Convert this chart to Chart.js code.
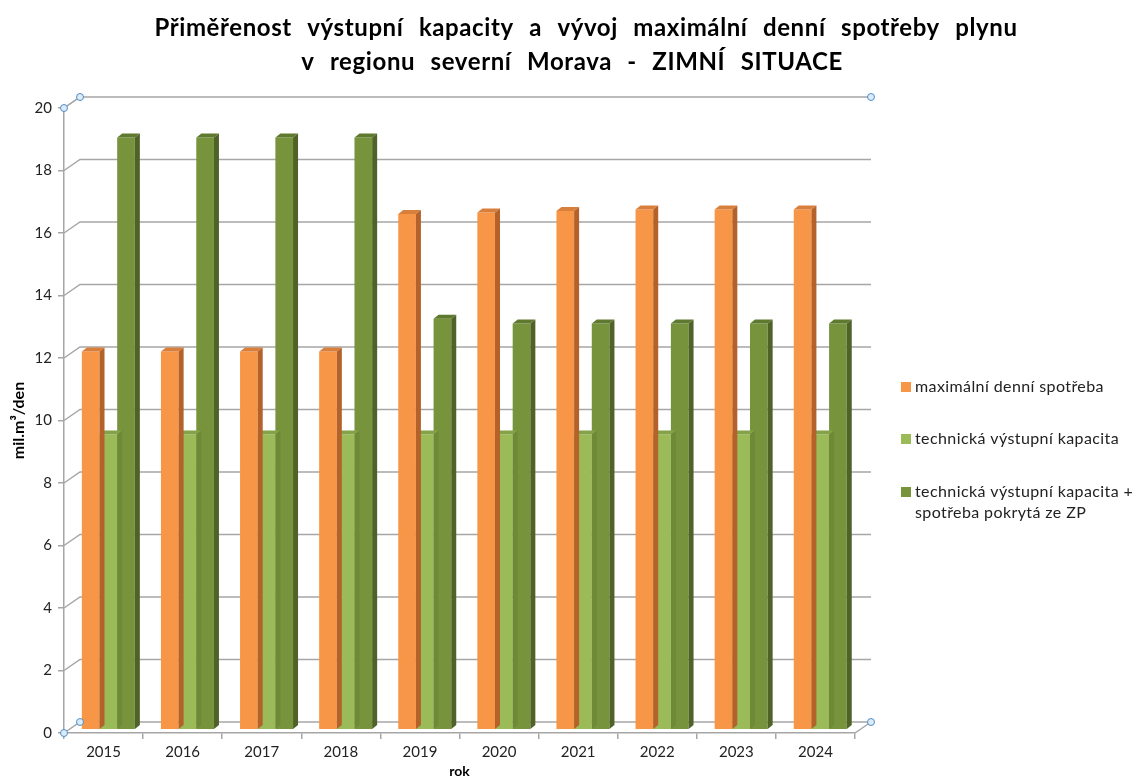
<!DOCTYPE html>
<html>
<head>
<meta charset="utf-8">
<script src="https://cdn.jsdelivr.net/npm/chart.js@4.4.1/dist/chart.umd.min.js"></script>
<style>
  html, body { margin:0; padding:0; background:#fff; }
  #wrap { width:1136px; height:781px; position:relative; }
</style>
</head>
<body>
<div id="wrap"><canvas id="chart"></canvas></div>
<script>
/* ---------- data ---------- */
const years = ['2015','2016','2017','2018','2019','2020','2021','2022','2023','2024'];
const maxDemand       = [12.1, 12.1, 12.1, 12.1, 16.5, 16.55, 16.6, 16.65, 16.65, 16.65];
const techCapacity    = [9.45, 9.45, 9.45, 9.45, 9.45, 9.45, 9.45, 9.45, 9.45, 9.45];
const techPlusStorage = [18.95, 18.95, 18.95, 18.95, 13.15, 13.0, 13.0, 13.0, 13.0, 13.0];
const seriesNames = [
  'maximální denní spotřeba',
  'technická výstupní kapacita',
  ['technická výstupní kapacita +', 'spotřeba pokrytá ze ZP']
];
const yTicks = [0, 2, 4, 6, 8, 10, 12, 14, 16, 18, 20];
const titleLines = [
  'Přiměřenost výstupní kapacity a vývoj maximální denní spotřeby plynu',
  'v regionu severní Morava - ZIMNÍ SITUACE'
];

/* ---------- fake 3D look ---------- */
const WALL_DX = 16, WALL_DY = 11;      // back wall offset
const BAR_POS = 0.3;                   // depth where bar front faces sit
const BAR_DX = 5, BAR_DY = 4;          // bar thickness
const FONT = 'Lato';

const faceColors = [
  { front:'#F79646', top:'#D97F3C', side:'#B4612A' },
  { front:'#9BBB59', top:'#84A247', side:'#6E8A37' },
  { front:'#77933C', top:'#5F7A2E', side:'#4F6228' }
];

const depth3d = {
  id: 'depth3d',
  beforeDatasetsDraw(chart){
    const { ctx, chartArea:a, scales:{ y } } = chart;
    ctx.save();
    ctx.strokeStyle = '#A6A6A6';
    ctx.lineWidth = 1.5;
    y.ticks.forEach(t => {
      const py = y.getPixelForValue(t.value);
      ctx.beginPath();
      ctx.moveTo(a.left, py);
      ctx.lineTo(a.left + WALL_DX, py - WALL_DY);
      ctx.lineTo(a.right + WALL_DX, py - WALL_DY);
      ctx.stroke();
    });
    const y0 = y.getPixelForValue(0);
    ctx.beginPath();
    ctx.moveTo(a.right, y0);
    ctx.lineTo(a.right + WALL_DX, y0 - WALL_DY);
    ctx.stroke();
    ctx.restore();
    // bars sit a bit behind the front plane
    ctx.save();
    ctx.translate(WALL_DX * BAR_POS, -WALL_DY * BAR_POS);
  },
  afterDatasetDraw(chart, args){
    const ctx = chart.ctx;
    const c = faceColors[args.index];
    args.meta.data.forEach(bar => {
      const { x, y, base, width } = bar.getProps(['x','y','base','width'], true);
      const l = x - width/2, r = x + width/2;
      ctx.fillStyle = c.top;
      ctx.beginPath();
      ctx.moveTo(l, y); ctx.lineTo(l + BAR_DX, y - BAR_DY);
      ctx.lineTo(r + BAR_DX, y - BAR_DY); ctx.lineTo(r, y);
      ctx.closePath(); ctx.fill();
      ctx.fillStyle = c.side;
      ctx.beginPath();
      ctx.moveTo(r, y); ctx.lineTo(r + BAR_DX, y - BAR_DY);
      ctx.lineTo(r + BAR_DX, base - BAR_DY); ctx.lineTo(r, base);
      ctx.closePath(); ctx.fill();
    });
  },
  afterDatasetsDraw(chart){
    chart.ctx.restore();
  },
  afterDraw(chart){
    const { ctx, chartArea:a } = chart;
    // selection handles of the plot area
    const pts = [
      [a.left, a.top], [a.left + WALL_DX, a.top - WALL_DY], [a.right + WALL_DX, a.top - WALL_DY],
      [a.right + WALL_DX, a.bottom - WALL_DY], [a.left, a.bottom], [a.left + WALL_DX, a.bottom - WALL_DY]
    ];
    ctx.save();
    ctx.strokeStyle = '#A6A6A6'; ctx.lineWidth = 1.2;
    ctx.beginPath();
    ctx.moveTo(a.left, a.top); ctx.lineTo(a.left + WALL_DX, a.top - WALL_DY);
    ctx.stroke();
    pts.forEach(([px, py]) => {
      ctx.beginPath();
      ctx.arc(px, py, 3.5, 0, Math.PI*2);
      ctx.fillStyle = '#DDEBF7'; ctx.fill();
      ctx.strokeStyle = '#4F8FC9'; ctx.lineWidth = 1; ctx.stroke();
    });

    // title (Excel-style wide word spacing)
    ctx.fillStyle = '#000';
    ctx.textAlign = 'center';
    ctx.textBaseline = 'middle';
    ctx.font = 'bold 24px ' + FONT;
    ctx.letterSpacing = '0.6px';
    ctx.wordSpacing = '9px';
    ctx.fillText(titleLines[0], 586, 28);
    ctx.fillText(titleLines[1], 572, 62);

    // legend
    const lx = 901;
    const rows = [387, 439, 492];
    ctx.textAlign = 'left';
    ctx.font = '16px ' + FONT;
    ctx.letterSpacing = '0.4px';
    ctx.wordSpacing = '0px';
    chart.data.datasets.forEach((ds, i) => {
      ctx.fillStyle = ds.backgroundColor;
      ctx.fillRect(lx, rows[i] - 5, 10, 10);
      ctx.fillStyle = '#222';
      const lines = Array.isArray(seriesNames[i]) ? seriesNames[i] : [seriesNames[i]];
      lines.forEach((t, k) => ctx.fillText(t, lx + 14, rows[i] + k * 21));
    });
    ctx.restore();
  }
};

const chart = new Chart(document.getElementById('chart'), {
  type: 'bar',
  data: {
    labels: years,
    datasets: [maxDemand, techCapacity, techPlusStorage].map((d, i) => ({
      label: Array.isArray(seriesNames[i]) ? seriesNames[i].join(' ') : seriesNames[i],
      data: d,
      backgroundColor: faceColors[i].front,
      borderWidth: 0,
      categoryPercentage: 0.67,
      barPercentage: 1.0,
      clip: false
    }))
  },
  options: {
    responsive: true,
    maintainAspectRatio: false,
    animation: false,
    layout: { padding: { left: 0, right: 281, top: 108, bottom: 0 } },
    plugins: {
      legend: { display: false },
      tooltip: { enabled: false },
      title: { display: false }
    },
    scales: {
      x: {
        grid: { offset: true, drawOnChartArea: false, tickLength: 6, color: '#A6A6A6', lineWidth: 1.5 },
        border: { color: '#A6A6A6', width: 1.5 },
        ticks: { color: '#222', font: { family: FONT, size: 15 }, padding: 4 },
        title: { display: true, text: 'rok', color: '#000', font: { family: FONT, size: 14, weight: 'bold' }, padding: { top: 0, bottom: 1 } },
        afterFit: s => { s.height = 48; }
      },
      y: {
        min: 0,
        max: 20,
        afterBuildTicks: s => { s.ticks = yTicks.map(v => ({ value: v })); },
        grid: { drawOnChartArea: false, tickLength: 6, color: '#A6A6A6', lineWidth: 1.5 },
        border: { color: '#A6A6A6', width: 1.5 },
        ticks: { color: '#222', font: { family: FONT, size: 15 }, padding: 6 },
        title: { display: true, text: 'mil.m³/den', color: '#000', font: { family: FONT, size: 16, weight: 'bold' }, padding: { top: 9, bottom: 0 } },
        afterFit: s => { s.width = 64; }
      }
    }
  },
  plugins: [depth3d]
});
</script>
</body>
</html>
